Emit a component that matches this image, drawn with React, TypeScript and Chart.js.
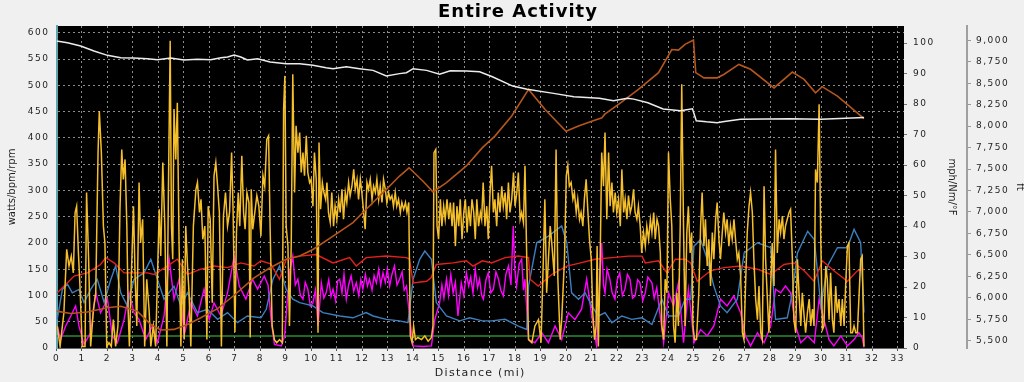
import React, { useEffect, useRef } from 'react';
import { Chart, registerables } from 'chart.js';

Chart.register(...registerables);

// ---- text ----
const chartTitle = 'Entire Activity';
const xTitle = 'Distance (mi)';
const leftTitle = 'watts/bpm/rpm';
const rightTitle = 'mph/Nm/°F';
const farRightTitle = 'ft';

// ---- tick values ----
const mileTicks = [0, 1, 2, 3, 4, 5, 6, 7, 8, 9, 10, 11, 12, 13, 14, 15, 16, 17, 18, 19, 20, 21, 22, 23, 24, 25, 26, 27, 28, 29, 30, 31, 32, 33];
const wattTicks = [0, 50, 100, 150, 200, 250, 300, 350, 400, 450, 500, 550, 600];
const mphTicks = [0, 10, 20, 30, 40, 50, 60, 70, 80, 90, 100];
const ftTicks = [5500, 5750, 6000, 6250, 6500, 6750, 7000, 7250, 7500, 7750, 8000, 8250, 8500, 8750, 9000];

// ---- series: [distance (mi), value] ----
const altitudeFt: [number, number][] = [
  [0, 8992], [0.43, 8973], [0.95, 8934], [1.47, 8876], [2.0, 8825], [2.52, 8798], [3.04, 8794], [3.57, 8786],
  [3.96, 8775], [4.48, 8794], [5.0, 8771], [5.53, 8779], [6.05, 8775], [6.45, 8798], [6.71, 8806], [6.97, 8829],
  [7.23, 8806], [7.49, 8771], [7.89, 8786], [8.38, 8748], [9.01, 8728], [9.54, 8728], [10.06, 8709], [10.58, 8681],
  [10.85, 8670], [11.37, 8693], [11.89, 8670], [12.42, 8650], [12.94, 8584], [13.46, 8612], [13.73, 8623], [13.99, 8670],
  [14.52, 8650], [15.03, 8604], [15.45, 8646], [16.08, 8643], [16.6, 8634], [17.1, 8576], [17.9, 8467], [18.47, 8429],
  [19.5, 8382], [20.3, 8343], [21.3, 8324], [21.85, 8296], [22.4, 8324], [22.65, 8315], [23.2, 8273], [23.8, 8200],
  [24.48, 8180], [24.95, 8203], [25.1, 8063], [25.5, 8050], [25.92, 8040], [26.2, 8055], [26.84, 8079], [28.8, 8085],
  [30.0, 8079], [31.68, 8100],
];

const temperatureF: [number, number][] = [
  [0, 12.1], [0.56, 11.3], [1.21, 11.8], [2.0, 13.2], [2.52, 13.7], [3.17, 12.1], [3.7, 7.7], [4.09, 5.9],
  [4.61, 6.1], [5.14, 7.7], [5.66, 9.9], [6.32, 12.9], [6.97, 17.3], [7.75, 23.0], [8.38, 26.3], [9.01, 29.1],
  [9.54, 30.2], [10.06, 32.3], [10.85, 36.7], [11.63, 41.1], [12.15, 45.5], [12.94, 52], [13.46, 56.4], [13.83, 59.1],
  [14.38, 54.7], [14.77, 51.2], [15.3, 54.2], [16.08, 59.7], [16.71, 65.7], [17.2, 69.5], [17.86, 76.1], [18.52, 84.8],
  [19.17, 78.2], [19.99, 71.1], [20.48, 72.8], [21.0, 74.4], [21.4, 75.5], [21.5, 76.6], [22.05, 79.9], [22.83, 84.8],
  [23.62, 90.3], [24.14, 97.9], [24.4, 97.7], [24.66, 99.6], [24.99, 101], [25.08, 90.3], [25.4, 88.6], [25.92, 88.6],
  [26.18, 89.7], [26.77, 93.0], [27.23, 91.4], [28.15, 85.3], [28.87, 90.5], [29.33, 88.1], [29.78, 83.7], [30.04, 85.7],
  [30.64, 82.6], [31.68, 75.2],
];

const powerW: [number, number][] = [
  [0.03, 42], [0.14, 3], [0.29, 67], [0.40, 188], [0.49, 156], [0.58, 175], [0.66, 143], [0.73, 258], [0.79, 270], [0.86, 181],
  [0.92, 118], [1.01, 3], [1.12, 3], [1.18, 296], [1.26, 169], [1.34, 3], [1.45, 74], [1.54, 105], [1.63, 372], [1.68, 451],
  [1.76, 372], [1.84, 232], [1.90, 200], [1.97, 3], [2.06, 10], [2.15, 3], [2.23, 54], [2.32, 3], [2.41, 42], [2.49, 264],
  [2.56, 378], [2.62, 321], [2.69, 359], [2.76, 232], [2.81, 74], [2.86, 3], [2.94, 143], [3.02, 270], [3.08, 143], [3.15, 42],
  [3.24, 315], [3.30, 200], [3.38, 245], [3.46, 3], [3.54, 131], [3.63, 74], [3.70, 3], [3.80, 42], [3.89, 3], [4.03, 264],
  [4.09, 175], [4.17, 353], [4.25, 232], [4.33, 3], [4.39, 296], [4.46, 585], [4.51, 232], [4.56, 169], [4.61, 455], [4.68, 359],
  [4.74, 467], [4.81, 194], [4.88, 3], [4.94, 169], [5.01, 16], [5.07, 232], [5.14, 156], [5.20, 105], [5.27, 3], [5.37, 232],
  [5.47, 302], [5.53, 315], [5.61, 258], [5.67, 283], [5.74, 207], [5.82, 232], [5.90, 16], [5.95, 270], [6.03, 245], [6.11, 86],
  [6.18, 328], [6.25, 353], [6.32, 308], [6.39, 258], [6.47, 3], [6.55, 251], [6.63, 296], [6.71, 232], [6.79, 258], [6.87, 372],
  [6.93, 258], [7.00, 30], [7.06, 220], [7.13, 296], [7.19, 232], [7.27, 366], [7.34, 258], [7.40, 226], [7.47, 296], [7.55, 277],
  [7.60, 20], [7.64, 302], [7.70, 226], [7.78, 258], [7.86, 290], [7.94, 270], [8.02, 213], [8.10, 328], [8.17, 308], [8.25, 397],
  [8.32, 404], [8.38, 232], [8.46, 42], [8.55, 16], [8.64, 10], [8.75, 16], [8.86, 10], [8.91, 455], [8.96, 518], [9.01, 232],
  [9.08, 194], [9.14, 42], [9.21, 200], [9.27, 521], [9.34, 296], [9.40, 423], [9.47, 372], [9.54, 410], [9.60, 334], [9.67, 372],
  [9.73, 328], [9.80, 404], [9.86, 334], [9.93, 315], [9.99, 321], [10.06, 270], [10.12, 372], [10.19, 321], [10.26, 29], [10.30, 391],
  [10.36, 264], [10.43, 315], [10.49, 296], [10.56, 283], [10.61, 315], [10.67, 258], [10.74, 239], [10.80, 296], [10.87, 232], [10.93, 270],
  [11.00, 245], [11.07, 283], [11.13, 258], [11.20, 302], [11.26, 245], [11.33, 296], [11.39, 277], [11.46, 315], [11.52, 290], [11.59, 308],
  [11.66, 340], [11.72, 302], [11.79, 321], [11.85, 283], [11.92, 321], [11.98, 296], [12.05, 258], [12.11, 226], [12.18, 315], [12.24, 302],
  [12.31, 321], [12.38, 283], [12.44, 308], [12.51, 296], [12.57, 321], [12.64, 283], [12.70, 308], [12.77, 277], [12.83, 321], [12.90, 302],
  [12.96, 277], [13.03, 296], [13.09, 283], [13.16, 290], [13.22, 270], [13.29, 296], [13.35, 270], [13.42, 283], [13.49, 258], [13.55, 277],
  [13.62, 264], [13.69, 277], [13.75, 258], [13.82, 277], [13.88, 23], [13.95, 10], [14.01, 42], [14.08, 16], [14.18, 20], [14.32, 16],
  [14.45, 23], [14.58, 13], [14.71, 20], [14.77, 42], [14.81, 372], [14.88, 378], [14.93, 232], [14.99, 207], [15.06, 283], [15.12, 232],
  [15.19, 270], [15.25, 245], [15.32, 283], [15.39, 245], [15.45, 277], [15.52, 232], [15.58, 277], [15.65, 194], [15.71, 270], [15.78, 232],
  [15.84, 283], [15.91, 207], [15.98, 258], [16.04, 283], [16.11, 220], [16.17, 270], [16.24, 232], [16.30, 283], [16.37, 258], [16.43, 207],
  [16.49, 283], [16.56, 232], [16.63, 258], [16.68, 245], [16.74, 315], [16.81, 232], [16.88, 270], [16.94, 207], [17.01, 296], [17.07, 347],
  [17.14, 258], [17.20, 283], [17.27, 232], [17.33, 296], [17.40, 258], [17.47, 308], [17.53, 270], [17.60, 296], [17.66, 245], [17.73, 315],
  [17.79, 258], [17.86, 283], [17.93, 334], [17.99, 270], [18.06, 296], [18.12, 334], [18.19, 245], [18.25, 258], [18.32, 239], [18.38, 347],
  [18.45, 169], [18.52, 16], [18.65, 10], [18.77, 42], [18.91, 54], [19.01, 10], [19.10, 169], [19.16, 283], [19.23, 105], [19.30, 169],
  [19.37, 232], [19.43, 200], [19.53, 137], [19.60, 378], [19.67, 131], [19.76, 16], [19.82, 54], [19.93, 169], [20.00, 328], [20.06, 347],
  [20.12, 308], [20.19, 315], [20.26, 283], [20.32, 296], [20.39, 258], [20.45, 283], [20.52, 245], [20.58, 258], [20.65, 232], [20.71, 283],
  [20.78, 321], [20.85, 258], [20.91, 207], [20.98, 169], [21.04, 67], [21.11, 16], [21.17, 42], [21.21, 194], [21.26, 3], [21.33, 169],
  [21.39, 372], [21.46, 308], [21.52, 410], [21.59, 245], [21.66, 372], [21.72, 270], [21.79, 315], [21.85, 258], [21.92, 296], [21.98, 258],
  [22.05, 283], [22.12, 232], [22.18, 340], [22.25, 258], [22.31, 283], [22.38, 245], [22.44, 290], [22.51, 258], [22.57, 270], [22.64, 302],
  [22.70, 258], [22.77, 245], [22.83, 270], [22.90, 232], [22.96, 181], [23.03, 220], [23.10, 194], [23.16, 232], [23.23, 207], [23.30, 245],
  [23.36, 220], [23.43, 258], [23.49, 207], [23.56, 245], [23.62, 232], [23.69, 181], [23.75, 42], [23.82, 16], [23.88, 131], [23.95, 105],
  [24.01, 372], [24.08, 283], [24.14, 232], [24.21, 42], [24.27, 10], [24.34, 105], [24.40, 42], [24.47, 232], [24.53, 502], [24.60, 232],
  [24.66, 42], [24.73, 220], [24.79, 270], [24.86, 181], [24.92, 220], [24.97, 42], [25.03, 16], [25.11, 16], [25.20, 105], [25.27, 232],
  [25.33, 296], [25.40, 194], [25.46, 245], [25.53, 156], [25.59, 207], [25.66, 118], [25.73, 220], [25.79, 169], [25.86, 245], [25.92, 277],
  [25.99, 207], [26.05, 169], [26.12, 220], [26.18, 258], [26.25, 220], [26.31, 245], [26.38, 194], [26.44, 232], [26.51, 207], [26.58, 245],
  [26.64, 207], [26.71, 169], [26.77, 181], [26.84, 137], [26.91, 29], [26.97, 16], [27.04, 131], [27.10, 220], [27.17, 270], [27.23, 296],
  [27.30, 258], [27.36, 169], [27.43, 93], [27.50, 54], [27.56, 118], [27.63, 29], [27.69, 16], [27.76, 308], [27.82, 169], [27.89, 93],
  [27.95, 29], [28.02, 118], [28.08, 200], [28.15, 118], [28.21, 378], [28.28, 181], [28.35, 245], [28.41, 220], [28.48, 251], [28.54, 207],
  [28.60, 232], [28.67, 245], [28.74, 258], [28.80, 264], [28.87, 169], [28.93, 54], [29.00, 29], [29.07, 169], [29.13, 105], [29.20, 42],
  [29.26, 105], [29.33, 61], [29.39, 29], [29.46, 67], [29.53, 93], [29.59, 42], [29.66, 74], [29.72, 42], [29.78, 340], [29.85, 315],
  [29.92, 464], [29.98, 220], [30.05, 35], [30.11, 42], [30.18, 156], [30.24, 131], [30.31, 54], [30.37, 143], [30.44, 54], [30.50, 29],
  [30.57, 118], [30.63, 67], [30.70, 93], [30.77, 42], [30.83, 93], [30.90, 42], [30.96, 118], [31.03, 194], [31.09, 200], [31.16, 29],
  [31.23, 29], [31.29, 42], [31.36, 29], [31.42, 29], [31.48, 93], [31.55, 169], [31.61, 175], [31.68, 3],
];

const heartRateBpm: [number, number][] = [
  [0.03, 105], [0.3, 118], [0.69, 137], [1.21, 143], [1.73, 159], [1.93, 172], [2.26, 162], [2.65, 143], [3.17, 143], [3.57, 143],
  [3.83, 140], [4.35, 156], [4.74, 169], [5.14, 140], [5.66, 150], [6.19, 156], [6.71, 153], [7.23, 162], [7.75, 156], [8.02, 166],
  [8.4, 160], [8.75, 131], [9.01, 169], [9.54, 175], [10.19, 178], [10.85, 162], [11.5, 172], [11.76, 156], [12.15, 172], [12.94, 175],
  [13.73, 172], [13.85, 169], [13.99, 124], [14.52, 127], [14.7, 134], [14.9, 159], [15.56, 162], [16.08, 166], [16.34, 156], [16.71, 166],
  [17.07, 162], [17.6, 172], [18.12, 175], [18.52, 172], [18.58, 131], [18.9, 118], [19.43, 140], [20.02, 156], [20.48, 161], [21.13, 169],
  [21.79, 172], [22.45, 175], [22.97, 175], [23.1, 162], [23.62, 166], [23.95, 143], [24.28, 169], [24.66, 169], [24.88, 162], [25.14, 127],
  [25.66, 147], [26.18, 153], [26.84, 156], [27.5, 150], [28.02, 140], [28.54, 159], [28.94, 162], [29.33, 147], [29.72, 127], [30.05, 166],
  [30.5, 147], [31.03, 127], [31.42, 147], [31.68, 150],
];

const speedMph: [number, number][] = [
  [0.03, 9.4], [0.23, 19.2], [0.43, 20.9], [0.62, 18.1], [0.88, 19.2], [1.08, 14.9], [1.34, 19.2], [1.6, 22.5], [1.87, 14.9], [2.13, 22.5],
  [2.32, 26.9], [2.52, 18.1], [2.78, 13.8], [3.04, 22.5], [3.44, 24.7], [3.7, 29.1], [3.96, 22.5], [4.22, 16.0], [4.61, 20.3], [4.88, 13.8],
  [5.14, 18.1], [5.53, 11.6], [5.92, 12.7], [6.32, 9.4], [6.71, 11.6], [7.1, 8.3], [7.49, 10.5], [8.02, 9.9], [8.23, 12.7], [8.49, 22.5],
  [8.75, 26.9], [9.01, 19.2], [9.27, 16], [9.54, 14.9], [10.06, 13.8], [10.45, 11.6], [11.11, 10.5], [11.63, 9.9], [12.15, 11.6], [12.42, 10.5],
  [12.94, 9.4], [13.46, 8.9], [13.79, 8.3], [13.99, 22.5], [14.25, 29.1], [14.45, 31.8], [14.71, 29.1], [14.9, 14.9], [15.3, 10.5], [15.82, 8.9],
  [16.21, 9.9], [16.71, 8.9], [17.07, 8.9], [17.6, 9.4], [18.12, 7.2], [18.45, 6.1], [18.52, 20.3], [18.84, 34.5], [19.3, 36.7], [19.82, 40],
  [20.02, 34.5], [20.21, 18.1], [20.48, 16], [20.74, 18.1], [21.0, 13.8], [21.26, 10.5], [21.52, 11.6], [21.79, 8.3], [22.18, 10.5], [22.57, 9.4],
  [22.97, 9.9], [23.36, 7.7], [23.75, 16], [24.01, 10.5], [24.4, 10.5], [24.66, 16], [24.88, 16], [25.01, 33.4], [25.27, 35.6], [25.53, 29.1],
  [25.79, 20.3], [26.05, 13.8], [26.31, 11.6], [26.71, 16], [26.98, 31.2], [27.5, 34.5], [28.02, 32.9], [28.21, 9.4], [28.67, 9.9], [28.87, 18.1],
  [29.07, 31.2], [29.47, 38.3], [29.73, 35.6], [29.99, 13.8], [30.25, 26.9], [30.64, 32.9], [31.03, 32.9], [31.29, 38.9], [31.55, 34.5], [31.68, 11.6],
];

const cadenceRpm: [number, number][] = [
  [0.03, 42], [0.16, 16], [0.36, 42], [0.56, 61], [0.75, 80], [0.88, 42], [1.08, 7], [1.34, 29], [1.54, 105], [1.73, 67],
  [2.0, 93], [2.19, 23], [2.39, 10], [2.65, 54], [2.85, 105], [3.04, 67], [3.24, 54], [3.5, 16], [3.76, 42], [3.96, 10],
  [4.22, 61], [4.42, 169], [4.61, 93], [4.81, 131], [5.01, 23], [5.27, 86], [5.53, 61], [5.79, 112], [5.99, 54], [6.18, 86],
  [6.45, 61], [6.71, 105], [6.97, 175], [7.17, 118], [7.43, 93], [7.69, 131], [7.89, 112], [8.15, 137], [8.3, 120], [8.42, 54],
  [8.55, 7], [8.82, 4], [8.95, 23], [9.14, 143], [9.27, 175], [9.37, 120], [9.47, 131], [9.57, 100], [9.67, 93], [9.76, 125],
  [9.86, 112], [9.96, 80], [10.06, 86], [10.16, 110], [10.26, 42], [10.39, 124], [10.49, 95], [10.58, 105], [10.68, 130], [10.77, 98],
  [10.85, 112], [10.95, 90], [11.03, 128], [11.11, 131], [11.2, 105], [11.28, 140], [11.37, 93], [11.46, 120], [11.56, 137], [11.66, 108],
  [11.76, 124], [11.86, 100], [11.94, 130], [12.02, 112], [12.12, 140], [12.2, 118], [12.28, 131], [12.38, 110], [12.46, 138], [12.55, 124],
  [12.64, 150], [12.72, 120], [12.81, 143], [12.9, 125], [12.98, 150], [13.07, 118], [13.16, 140], [13.26, 156], [13.36, 120], [13.46, 131],
  [13.56, 145], [13.64, 110], [13.73, 118], [13.85, 61], [13.99, 4], [14.38, 3], [14.71, 4], [14.84, 54], [15.03, 86], [15.12, 120],
  [15.2, 95], [15.3, 131], [15.38, 100], [15.47, 140], [15.56, 105], [15.65, 125], [15.75, 61], [15.88, 124], [15.98, 100], [16.08, 143],
  [16.17, 118], [16.25, 135], [16.34, 105], [16.43, 150], [16.52, 115], [16.6, 131], [16.68, 100], [16.75, 93], [16.85, 130], [16.94, 143],
  [17.04, 105], [17.14, 112], [17.24, 145], [17.34, 131], [17.43, 110], [17.53, 99], [17.63, 140], [17.73, 156], [17.83, 120], [17.92, 232],
  [17.98, 150], [18.05, 118], [18.15, 160], [18.25, 169], [18.32, 110], [18.38, 131], [18.52, 16], [18.77, 10], [19.04, 29], [19.3, 10],
  [19.56, 42], [19.82, 16], [20.08, 67], [20.34, 54], [20.6, 74], [20.8, 131], [21.0, 61], [21.19, 4], [21.39, 200], [21.46, 120],
  [21.52, 105], [21.6, 150], [21.71, 131], [21.8, 105], [21.91, 93], [22.0, 130], [22.1, 143], [22.2, 100], [22.3, 112], [22.4, 140],
  [22.5, 131], [22.6, 95], [22.7, 99], [22.8, 130], [22.89, 124], [23.0, 90], [23.1, 105], [23.2, 135], [23.36, 124], [23.45, 95],
  [23.55, 115], [23.62, 86], [23.82, 10], [24.01, 105], [24.21, 80], [24.4, 124], [24.6, 10], [24.79, 112], [24.88, 74], [25.01, 10],
  [25.27, 35], [25.53, 23], [25.79, 42], [26.05, 93], [26.31, 80], [26.57, 99], [26.84, 67], [27.03, 23], [27.23, 4], [27.5, 29],
  [27.76, 10], [28.02, 42], [28.21, 112], [28.41, 105], [28.6, 118], [28.8, 105], [29.0, 42], [29.2, 10], [29.47, 23], [29.73, 10],
  [29.92, 93], [30.11, 54], [30.31, 16], [30.5, 4], [30.77, 23], [31.03, 4], [31.29, 16], [31.48, 29], [31.61, 20], [31.68, 1],
];

const torqueNm: [number, number][] = [
  [0, 3.9], [31.68, 3.9],
];

const FONT = 'DejaVu Sans';
const tickFont = { family: FONT, size: 9 };
const sideTitleFont = { family: FONT, size: 10 };
const bottomTitleFont = { family: FONT, size: 11 };
const gridColor = '#8c8c8c';
const textColor = '#1e1e1e';

// letter spacing per scale: [labels, title]
const scaleSpacing: Record<string, [string, string]> = {
  x: ['1.5px', '1.3px'],
  y: ['1.5px', '0px'],
  yR: ['1.5px', '0px'],
  yFt: ['1.5px', '0px'],
};

const toXY = (arr: [number, number][]) => arr.map(([x, y]) => ({ x, y }));
const setTicks = (vals: number[]) => (axis: any) => {
  axis.ticks = vals.map((v) => ({ value: v }));
};

const plotBackground = {
  id: 'plotBackground',
  beforeDraw(chart: any) {
    const { ctx, chartArea: a } = chart;
    ctx.save();
    ctx.fillStyle = '#000000';
    ctx.fillRect(a.left, a.top, a.right - a.left, a.bottom - a.top);
    ctx.restore();
  },
};

const textSpacing = {
  id: 'textSpacing',
  beforeDraw(chart: any) {
    Object.keys(chart.scales).forEach((id) => {
      const s: any = chart.scales[id];
      const cfg = scaleSpacing[id];
      if (!cfg || s.__spaced) return;
      s.__spaced = true;
      const wrap = (name: string, sp: string) => {
        const orig = s[name].bind(s);
        s[name] = (...args: any[]) => {
          const ctx: any = s.ctx;
          ctx.save();
          ctx.letterSpacing = sp;
          try {
            orig(...args);
          } finally {
            ctx.restore();
          }
        };
      };
      wrap('drawLabels', cfg[0]);
      wrap('drawTitle', cfg[1]);
    });
  },
};

const titleDrawer = {
  id: 'titleDrawer',
  afterDraw(chart: any) {
    const ctx: any = chart.ctx;
    ctx.save();
    ctx.font = `bold 18px "${FONT}"`;
    ctx.letterSpacing = '1px';
    ctx.fillStyle = '#000000';
    ctx.textAlign = 'center';
    ctx.textBaseline = 'alphabetic';
    ctx.fillText(chartTitle, 518, 17);
    ctx.restore();
  },
};

const line = (label: string, data: [number, number][], color: string, axis: string, width = 1.6) => ({
  label,
  data: toXY(data),
  borderColor: color,
  backgroundColor: color,
  borderWidth: width,
  pointRadius: 0,
  tension: 0,
  fill: false,
  yAxisID: axis,
});

export default function App() {
  const ref = useRef<HTMLCanvasElement>(null);

  useEffect(() => {
    if (!ref.current) return;
    const chart = new Chart(ref.current, {
      type: 'line',
      data: {
        datasets: [
          line('Altitude', altitudeFt, '#ececec', 'yFt', 1.5),
          line('Temperature', temperatureF, '#b5561d', 'yR', 1.6),
          line('Power', powerW, '#f5bf2b', 'y', 1.5),
          line('Heart Rate', heartRateBpm, '#e3211c', 'y', 1.4),
          line('Speed', speedMph, '#3b7fbf', 'yR', 1.4),
          line('Cadence', cadenceRpm, '#ff00ff', 'y', 1.4),
          line('Torque', torqueNm, '#2e8b2e', 'yR', 1.5),
        ] as any,
      },
      options: {
        animation: false,
        responsive: false,
        events: [],
        layout: { padding: { top: 26, left: 0, right: 0, bottom: 0 } },
        plugins: {
          legend: { display: false },
          tooltip: { enabled: false },
          title: { display: false },
        },
        scales: {
          x: {
            type: 'linear',
            min: 0,
            max: 33.25,
            afterBuildTicks: setTicks(mileTicks),
            afterFit: (s: any) => { s.height = 34; },
            ticks: { font: tickFont, color: textColor, padding: 2, autoSkip: false, maxRotation: 0, callback: (v: any) => String(v) },
            grid: { color: gridColor, lineWidth: 1, drawTicks: true, tickLength: 3, tickColor: '#555555' },
            border: { display: true, color: '#666666', width: 1, dash: [2, 3] },
            title: { display: true, text: xTitle, font: bottomTitleFont, color: textColor, padding: { top: 0, bottom: 2.4 } },
          },
          y: {
            type: 'linear',
            position: 'left',
            min: 0,
            max: 613,
            afterBuildTicks: setTicks(wattTicks),
            afterFit: (s: any) => { s.width = 56.5; },
            ticks: { font: tickFont, color: textColor, padding: 7, callback: (v: any) => String(v) },
            grid: { color: gridColor, lineWidth: 1, drawTicks: false },
            border: { display: true, color: '#5fa5ad', width: 2, dash: [2, 3] },
            title: { display: true, text: leftTitle, font: sideTitleFont, color: textColor, padding: { top: 6, bottom: 0 } },
          },
          yR: {
            type: 'linear',
            position: 'right',
            min: 0,
            max: 105.6,
            afterBuildTicks: setTicks(mphTicks),
            afterFit: (s: any) => { s.width = 63; },
            ticks: { font: tickFont, color: textColor, padding: 6, callback: (v: any) => String(v) },
            grid: { drawOnChartArea: false, drawTicks: true, tickLength: 3, tickColor: '#777777' },
            border: { display: false },
            title: { display: true, text: rightTitle, font: sideTitleFont, color: textColor, padding: { top: 9.5, bottom: 0 } },
          },
          yFt: {
            type: 'linear',
            position: 'right',
            min: 5415,
            max: 9167,
            afterBuildTicks: setTicks(ftTicks),
            afterFit: (s: any) => { s.width = 57; },
            ticks: { font: tickFont, color: textColor, padding: 5, callback: (v: any) => Number(v).toLocaleString('en-US') },
            grid: { drawOnChartArea: false, drawTicks: true, tickLength: 4, tickColor: '#999999' },
            border: { display: true, color: '#a0a0a0', width: 2 },
            title: { display: true, text: farRightTitle, font: sideTitleFont, color: textColor, padding: { top: -2, bottom: 0 } },
          },
        },
      } as any,
      plugins: [plotBackground, textSpacing, titleDrawer],
    });
    return () => chart.destroy();
  }, []);

  return (
    <div style={{ position: 'fixed', left: 0, top: 0, width: 1024, height: 382, background: '#f0f0f0', overflow: 'hidden' }}>
      <canvas ref={ref} width={1024} height={382} style={{ display: 'block', width: 1024, height: 382 }} />
    </div>
  );
}
